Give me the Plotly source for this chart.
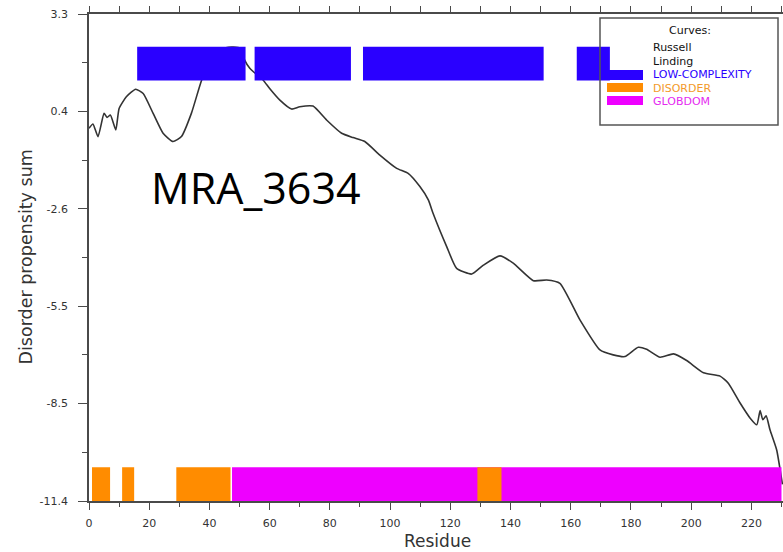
import plotly.graph_objects as go
import numpy as np

# ---------------- data ----------------
residue = [0, 1.3, 3, 5, 6, 7.1, 8.9, 10, 12.4, 15.5, 18, 21.3, 24.6, 27.9, 30.7, 34, 37.4,
           40, 43, 45.5, 48, 50.3, 51.7, 53.4, 54.7, 57.8, 60, 63.4, 67.3, 70, 74.4, 78.9, 83.9,
           87.7, 91.6, 96.6, 102.2, 106, 109.9, 112.7, 114.3, 118.8, 122.1, 127.1, 131,
           136.5, 140.9, 147.6, 152, 156.4, 163.1, 169.7, 174.1, 178, 182.4, 185.2, 189.7,
           194.1, 198.5, 204.1, 209.6, 212.4, 216.3, 219.6, 221.8, 222.9, 223.8, 224.9,
           226.2, 228.4, 230.3]
disorder_sum = [-0.15, -0.02, -0.40, 0.30, 0.18, 0.25, -0.20, 0.45, 0.80, 1.03, 0.90, 0.30,
                -0.30, -0.55, -0.40, 0.30, 1.30, 1.80, 2.12, 2.28, 2.30, 2.26, 1.91, 1.66,
                1.55, 1.31, 1.05, 0.70, 0.43, 0.50, 0.52, 0.10, -0.30, -0.43, -0.55, -0.96,
                -1.36, -1.51, -1.91, -2.31, -2.72, -3.72, -4.38, -4.55, -4.28, -4.00, -4.22,
                -4.75, -4.73, -4.83, -5.94, -6.84, -6.99, -7.04, -6.76, -6.82, -7.06, -6.96,
                -7.16, -7.53, -7.63, -7.85, -8.45, -8.90, -9.10, -8.67, -8.95, -8.83, -9.26,
                -9.86, -10.9]

low_complexity_start = [16, 55, 91, 162]
low_complexity_end = [52, 87, 151, 173]
disorder_start = [1, 11, 29, 129]
disorder_end = [7, 15, 47, 137]
globdom_start = [47.5]
globdom_end = [230]

upper_track = [1.29, 2.31]     # y extent of the LOW-COMPLEXITY track
lower_track = [-11.4, -10.38]  # y extent of DISORDER / GLOBDOM track

y_tick_labels = ["3.3", "0.4", "-2.6", "-5.5", "-8.5", "-11.4"]
x_tick_labels = ["0", "20", "40", "60", "80", "100", "120", "140", "160", "180", "200", "220"]
y_range = [-11.4, 3.3]
x_range = [0, 230.5]

# ---------------- layout geometry ----------------
W, H = 783, 552
L, R, T, B = 89, 0, 14, 51
PW, PH = W - L - R, H - T - B


def px(x):
    return (x - L) / PW


def py(y):
    return (H - B - y) / PH


def track(starts, ends, lim):
    xs, ys = [], []
    for s, e in zip(starts, ends):
        xs += [s, e, e, s, s, None]
        ys += [lim[0], lim[0], lim[1], lim[1], lim[0], None]
    return xs, ys


BLUE = "#2a00ff"
ORANGE = "#ff8c00"
MAGENTA = "#ee00ff"
AX = "#4a4a4a"
TICKFONT = dict(family="DejaVu Sans", size=11, color="#333333")

fig = go.Figure()

fig.add_trace(go.Scatter(x=residue, y=disorder_sum, mode="lines",
                         line=dict(color="#333333", width=1.6, shape="spline", smoothing=0.5),
                         showlegend=False, hoverinfo="skip"))

for starts, ends, lim, col in [(low_complexity_start, low_complexity_end, upper_track, BLUE),
                               (globdom_start, globdom_end, lower_track, MAGENTA),
                               (disorder_start, disorder_end, lower_track, ORANGE)]:
    xs, ys = track(starts, ends, lim)
    fig.add_trace(go.Scatter(x=xs, y=ys, mode="lines", fill="toself", fillcolor=col,
                             line=dict(width=0, color=col), showlegend=False, hoverinfo="skip"))

# dummy trace for top axis
fig.add_trace(go.Scatter(x=[0], y=[None], xaxis="x2", showlegend=False, hoverinfo="skip"))

y_ticks = list(np.linspace(y_range[1], y_range[0], len(y_tick_labels)))
y_minor = [(a + b) / 2 for a, b in zip(y_ticks[:-1], y_ticks[1:])]
x_ticks = [float(t) for t in x_tick_labels]
x_minor = [t + 10 for t in x_ticks]

fig.update_layout(
    width=W, height=H,
    margin=dict(l=L, r=R, t=T, b=B, autoexpand=False),
    paper_bgcolor="white", plot_bgcolor="white",
    showlegend=False,
    xaxis=dict(range=x_range, showgrid=False, zeroline=False, showline=True,
               linecolor=AX, linewidth=1.5, ticks="outside", tickcolor=AX, tickwidth=1.2,
               ticklen=7, tickmode="array", tickvals=x_ticks, ticktext=x_tick_labels,
               tickfont=TICKFONT, ticklabelstandoff=4,
               minor=dict(tickmode="array", tickvals=x_minor, ticks="outside", ticklen=4,
                          tickcolor=AX, tickwidth=1.2, showgrid=False)),
    xaxis2=dict(range=x_range, overlaying="x", side="top", anchor="y", showgrid=False,
                zeroline=False, showline=True, linecolor=AX, linewidth=1.5, ticks="outside",
                tickcolor=AX, tickwidth=1.2, ticklen=6, tickmode="array",
                tickvals=[t for t in x_ticks] + x_minor, showticklabels=False),
    yaxis=dict(range=y_range, showgrid=False, zeroline=False, showline=True,
               linecolor=AX, linewidth=1.5, ticks="outside", tickcolor=AX, tickwidth=1.2,
               ticklen=9, tickmode="array", tickvals=y_ticks, ticktext=y_tick_labels,
               tickfont=TICKFONT, ticklabelstandoff=8,
               minor=dict(tickmode="array", tickvals=y_minor, ticks="outside", ticklen=5,
                          tickcolor=AX, tickwidth=1.2, showgrid=False)),
)

annotations = [
    dict(text="Residue", x=px(437), y=py(541), xref="paper", yref="paper",
         showarrow=False, font=dict(family="DejaVu Sans", size=17, color="#333333"),
         xanchor="center", yanchor="middle"),
    dict(text="Disorder propensity sum", x=px(25), y=py(257.5), xref="paper", yref="paper",
         showarrow=False, textangle=-90,
         font=dict(family="DejaVu Sans", size=17.5, color="#333333"),
         xanchor="center", yanchor="middle"),
    dict(text="MRA_3634", x=px(256), y=py(187), xref="paper", yref="paper",
         showarrow=False, font=dict(family="Open Sans", size=43, color="#000000"),
         xanchor="center", yanchor="middle"),
    dict(text="Curves:", x=px(690), y=py(30), xref="paper", yref="paper", showarrow=False,
         font=dict(family="DejaVu Sans", size=11, color="#111111"),
         xanchor="center", yanchor="middle"),
]
leg_items = [("Russell", "#111111", 47.5), ("Linding", "#111111", 61),
             ("LOW-COMPLEXITY", BLUE, 74.5), ("DISORDER", "#f39a2a", 88),
             ("GLOBDOM", "#e52af0", 101.5)]
for txt, col, yy in leg_items:
    annotations.append(dict(text=txt, x=px(651), y=py(yy), xref="paper", yref="paper",
                            showarrow=False, font=dict(family="DejaVu Sans", size=11, color=col),
                            xanchor="left", yanchor="middle"))
fig.update_layout(annotations=annotations)

shapes = [dict(type="rect", xref="paper", yref="paper", x0=px(600), x1=px(778),
               y0=py(18), y1=py(125), line=dict(color="#555555", width=1.5),
               fillcolor="rgba(0,0,0,0)", layer="above")]
for col, y0, y1 in [(BLUE, 70, 80), (ORANGE, 83, 92), (MAGENTA, 96, 105)]:
    shapes.append(dict(type="rect", xref="paper", yref="paper", x0=px(607), x1=px(643),
                       y0=py(y1), y1=py(y0), line=dict(width=0), fillcolor=col, layer="above"))
fig.update_layout(shapes=shapes)

fig.write_html("out.html")
